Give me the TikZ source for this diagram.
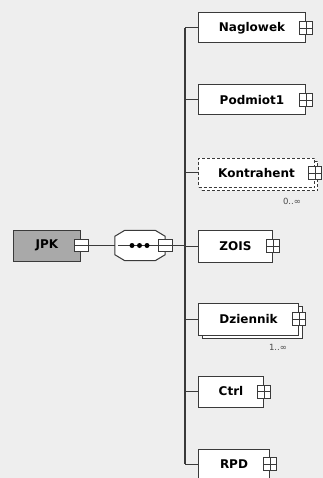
\documentclass[tikz,border=0pt]{standalone}
\usepackage{fontspec}
\setmainfont{DejaVu Sans}
\usetikzlibrary{shadows,calc}
\definecolor{bg}{HTML}{EEEEEE}
\definecolor{bord}{HTML}{3A3A3A}
\definecolor{jpkfill}{HTML}{A9A9A9}
\definecolor{lbl}{HTML}{4A4A4A}
\tikzset{
  elem/.style={draw=bord, line width=1pt, fill=white, rectangle, inner sep=0pt,
    minimum height=30pt, anchor=west, font=\fontsize{12}{14}\selectfont\bfseries},
  optelem/.style={elem, dashed, dash pattern=on 3pt off 2pt},
  plusbox/.style={draw=bord, line width=0.8pt, fill=white, rectangle, inner sep=0pt,
    minimum width=13pt, minimum height=13pt,
    path picture={\draw[bord, line width=0.8pt] (path picture bounding box.north) -- (path picture bounding box.south)
      (path picture bounding box.west) -- (path picture bounding box.east);}},
  minusbox/.style={draw=bord, line width=0.8pt, fill=white, rectangle, inner sep=0pt,
    minimum width=14pt, minimum height=12pt,
    path picture={\draw[bord, line width=0.8pt] (path picture bounding box.west) -- (path picture bounding box.east);}},
  conn/.style={draw=bord, line width=1pt},
  mult/.style={font=\fontsize{8.5}{10}\selectfont, text=lbl, inner sep=0pt},
}
\begin{document}
\begin{tikzpicture}[x=1pt,y=-1pt]
\fill[bg] (0,0) rectangle (323,478);
\useasboundingbox (0,0) rectangle (323,478);

% root
\node[elem, fill=jpkfill, minimum width=67pt, minimum height=31pt] (jpk) at (13,245.5) {JPK};
\node[minusbox] (jpkm) at (jpk.east) {};

% sequence compositor
\node[draw=none, minimum width=50pt, minimum height=30pt, inner sep=0pt] (seq) at (140,245.5) {};
\draw[conn, fill=white]
  ([xshift=10pt]seq.north west) -- ([xshift=-10pt]seq.north east)
  -- ([yshift=-6pt]seq.north east) -- ([yshift=6pt]seq.south east)
  -- ([xshift=-10pt]seq.south east) -- ([xshift=10pt]seq.south west)
  -- ([yshift=6pt]seq.south west) -- ([yshift=-6pt]seq.north west) -- cycle;
\draw[conn] ([xshift=3pt]seq.west) -- ([xshift=-7pt]seq.east);
\foreach \dx in {-8,-0.5,7}{
  \fill[black] ([xshift=\dx pt]seq.center) circle[radius=2.5pt];
}
\node[minusbox] (seqm) at (seq.east) {};

\draw[conn] (jpkm.east) -- (seq.west);
\coordinate (sp) at (185,245.5);
\draw[conn] (seqm.east) -- (sp);

% children
\node[elem, minimum width=107pt] (nag) at (198,28) {Naglowek};
\node[plusbox] (nagp) at (nag.east) {};
\node[elem, minimum width=107pt] (pod) at (198,100) {Podmiot1};
\node[plusbox] (podp) at (pod.east) {};
\node[optelem, minimum width=116pt, minimum height=29pt,
  copy shadow={shadow xshift=3pt, shadow yshift=-3pt, dashed, dash pattern=on 3pt off 2pt, draw=bord, line width=1pt}] (kon) at (198,173) {Kontrahent};
\node[plusbox] (konp) at (kon.east) {};
\node[mult] (konm) at (292,201) {0..∞};
\node[elem, minimum width=74pt, minimum height=32pt] (zois) at (198,246) {ZOIS};
\node[plusbox] (zoisp) at (zois.east) {};
\node[elem, minimum width=100pt, minimum height=32pt,
  copy shadow={shadow xshift=4pt, shadow yshift=-3pt, draw=bord, line width=1pt}] (dzi) at (198,319) {Dziennik};
\node[plusbox] (dzip) at (dzi.east) {};
\node[mult] (dzim) at (278,347) {1..∞};
\node[elem, minimum width=65pt, minimum height=31pt] (ctrl) at (198,391.5) {Ctrl};
\node[plusbox] (ctrlp) at (ctrl.east) {};
\node[elem, minimum width=71pt] (rpd) at (198,464) {RPD};
\node[plusbox] (rpdp) at (rpd.east) {};

% spine
\draw[conn, line width=1.2pt] (nag.west -| sp) -- (rpd.west -| sp);
\foreach \n in {nag,pod,kon,zois,dzi,ctrl,rpd}{
  \draw[conn] (\n.west -| sp) -- (\n.west);
}
\end{tikzpicture}
\end{document}
